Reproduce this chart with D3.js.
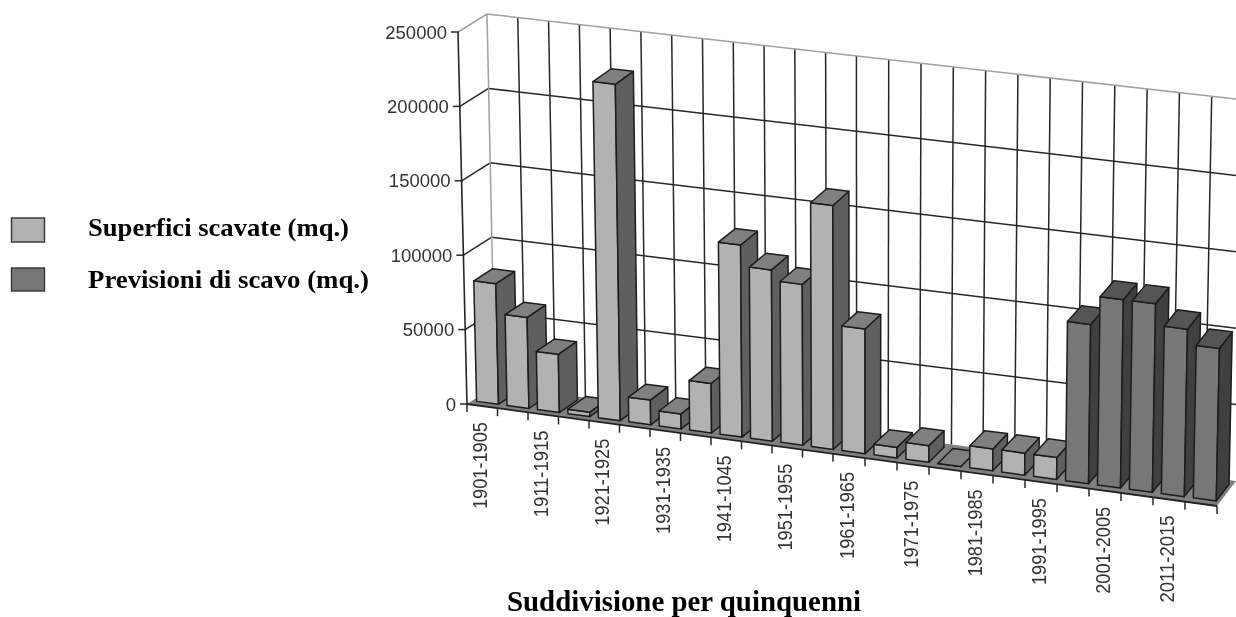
<!DOCTYPE html>
<html>
<head>
    <meta charset="utf-8" />
    <title>Superfici scavate</title>
    <style>
        html, body { margin: 0; padding: 0; background: #fff; overflow: hidden; }
        svg { display: block; filter: blur(0.35px); }
    </style>
</head>
<body>
    <div id="chart"></div>
    <script src="https://d3js.org/d3.v7.min.js"></script>
    <script>
        const periods = ["1901-1905","1906-1910","1911-1915","1916-1920","1921-1925","1926-1930",
            "1931-1935","1936-1940","1941-1045","1946-1950","1951-1955","1956-1960","1961-1965",
            "1966-1970","1971-1975","1976-1980","1981-1985","1986-1990","1991-1995","1996-2000",
            "2001-2005","2006-2010","2011-2015","2016-2020"];
        const scavate = [81000,61000,39000,3000,225000,16500,10000,33000,128000,114000,107000,162000,
            82700,7000,11000,0,14500,14500,14500,0,0,0,0,0];
        const previsioni = [0,0,0,0,0,0,0,0,0,0,0,0,0,0,0,0,0,0,0,105000,124000,124000,110000,100000];
        const yTicks = [0,50000,100000,150000,200000,250000];
        const labelEvery = 2;

        const width = 1236, height = 617;

        const svg = d3.select("#chart").append("svg")
            .attr("width", width)
            .attr("height", height);

        // the box in screen space, everything goes through project()
        const frontLeft = d3.scaleLinear().domain([0,1]).range([[467,404],[458,32]]);
        const frontRight = d3.scaleLinear().domain([0,1]).range([[1217,506],[1225,125]]);
        const backLeft = d3.scaleLinear().domain([0,1]).range([[495,386],[487,14]]);
        const backRight = d3.scaleLinear().domain([0,1]).range([[1236,481],[1244,100]]);

        const catScale = d3.scaleLinear().domain([0,12,24]).range([0,0.488,1]);
        const valScale = d3.scaleLinear().domain([0,250000]).range([0,1]);

        const project = (i, depth, v) => {
            const t = catScale(i), h = valScale(v);
            const front = d3.interpolate(frontLeft(h), frontRight(h))(t);
            const back = d3.interpolate(backLeft(h), backRight(h))(t);
            return d3.interpolate(front, back)(depth);
        };

        const poly = d3.line().curve(d3.curveLinearClosed);
        const seg = (a, b, stroke, w) => svg.append("line")
            .attr("x1", a[0]).attr("y1", a[1]).attr("x2", b[0]).attr("y2", b[1])
            .attr("stroke", stroke).attr("stroke-width", w);

        const gridColor = "#262626", wallColor = "#a0a0a0";

        // floor
        svg.append("path")
            .attr("d", poly([project(0,0,0), project(24,0,0), project(24,1,0), project(0,1,0)]))
            .attr("fill", "#808080");

        // back wall verticals
        d3.range(1,24).forEach(i => seg(project(i,1,0), project(i,1,250000), gridColor, 1.5));

        // horizontal gridlines, side wall + back wall
        yTicks.slice(1,-1).forEach(v => {
            seg(project(0,0,v), project(0,1,v), gridColor, 1.5);
            seg(project(0,1,v), project(24,1,v), gridColor, 1.5);
        });

        // light outer edges
        seg(project(0,0,250000), project(0,1,250000), wallColor, 1.5);
        seg(project(0,1,250000), project(24,1,250000), wallColor, 1.5);
        seg(project(0,1,0), project(0,1,250000), wallColor, 1.5);
        seg(project(0,0,0), project(0,0,250000), gridColor, 1.6);

        // y ticks and labels
        yTicks.forEach(v => {
            const p = project(0,0,v);
            seg([p[0]-7,p[1]], [p[0]+1,p[1]], gridColor, 1.5);
            svg.append("text")
                .attr("x", p[0]-11)
                .attr("y", p[1]+6.5)
                .attr("text-anchor", "end")
                .attr("font-family", "Liberation Sans")
                .attr("font-size", 18.5)
                .attr("fill", "#333")
                .text(d3.format("d")(v));
        });

        // category ticks along the front edge
        seg(project(0,0,0), project(24,0,0), "#222", 1.8);
        d3.range(0,25).forEach(i => {
            const p = project(i,0,0);
            seg(p, [p[0],p[1]+8], gridColor, 1.5);
        });

        // x labels
        periods.forEach((d, i) => {
            if (i % labelEvery) return;
            const p = project(i+0.5,0,0);
            svg.append("text")
                .attr("transform", `translate(${p[0]-3},${p[1]+16}) rotate(-90)`)
                .attr("dy", "0.36em")
                .attr("text-anchor", "end")
                .attr("font-family", "Liberation Sans")
                .attr("font-size", 21)
                .attr("textLength", 87)
                .attr("lengthAdjust", "spacingAndGlyphs")
                .attr("fill", "#333")
                .text(d);
        });

        // bars, left to right so that each one covers the side of the previous
        const barLeft = 0.15, barRight = 0.87, depth0 = 0.18, depth1 = 0.85;
        const light = {front:"#b2b2b2", side:"#5f5f5f", top:"#808080"};
        const dark = {front:"#777777", side:"#404040", top:"#555555"};

        const drawBar = (i, v, col) => {
            const a = i + barLeft, b = i + barRight;
            const faces = [
                [[[a,depth0,0],[b,depth0,0],[b,depth0,v],[a,depth0,v]], col.front],
                [[[b,depth0,0],[b,depth1,0],[b,depth1,v],[b,depth0,v]], col.side],
                [[[a,depth0,v],[b,depth0,v],[b,depth1,v],[a,depth1,v]], col.top]
            ];
            faces.forEach(f => svg.append("path")
                .attr("d", poly(f[0].map(c => project(c[0],c[1],c[2]))))
                .attr("fill", f[1])
                .attr("stroke", "#1c1c1c")
                .attr("stroke-width", 1.5)
                .attr("stroke-linejoin", "round"));
        };

        periods.forEach((d, i) => {
            if (previsioni[i] > 0) drawBar(i, previsioni[i], dark);
            else drawBar(i, scavate[i], light);
        });

        // legend
        const legendItems = ["Superfici scavate (mq.)", "Previsioni di scavo (mq.)"];
        const legendColors = [light.front, dark.front];
        const legendTop = [218, 268], legendH = [24, 23], legendBase = [236, 288], legendLen = [261, 281];
        legendItems.forEach((d, i) => {
            svg.append("rect")
                .attr("x", 11.5).attr("y", legendTop[i])
                .attr("width", 33).attr("height", legendH[i])
                .attr("fill", legendColors[i])
                .attr("stroke", "#333").attr("stroke-width", 1.4);
            svg.append("text")
                .attr("x", 88).attr("y", legendBase[i])
                .attr("font-family", "Liberation Serif")
                .attr("font-weight", "bold")
                .attr("font-size", 26)
                .attr("textLength", legendLen[i])
                .attr("lengthAdjust", "spacingAndGlyphs")
                .attr("fill", "#000")
                .text(d);
        });

        // axis title
        svg.append("text")
            .attr("x", 507).attr("y", 611)
            .attr("font-family", "Liberation Serif")
            .attr("font-weight", "bold")
            .attr("font-size", 29)
            .attr("textLength", 354)
            .attr("lengthAdjust", "spacingAndGlyphs")
            .attr("fill", "#000")
            .text("Suddivisione per quinquenni");
    </script>
</body>
</html>
